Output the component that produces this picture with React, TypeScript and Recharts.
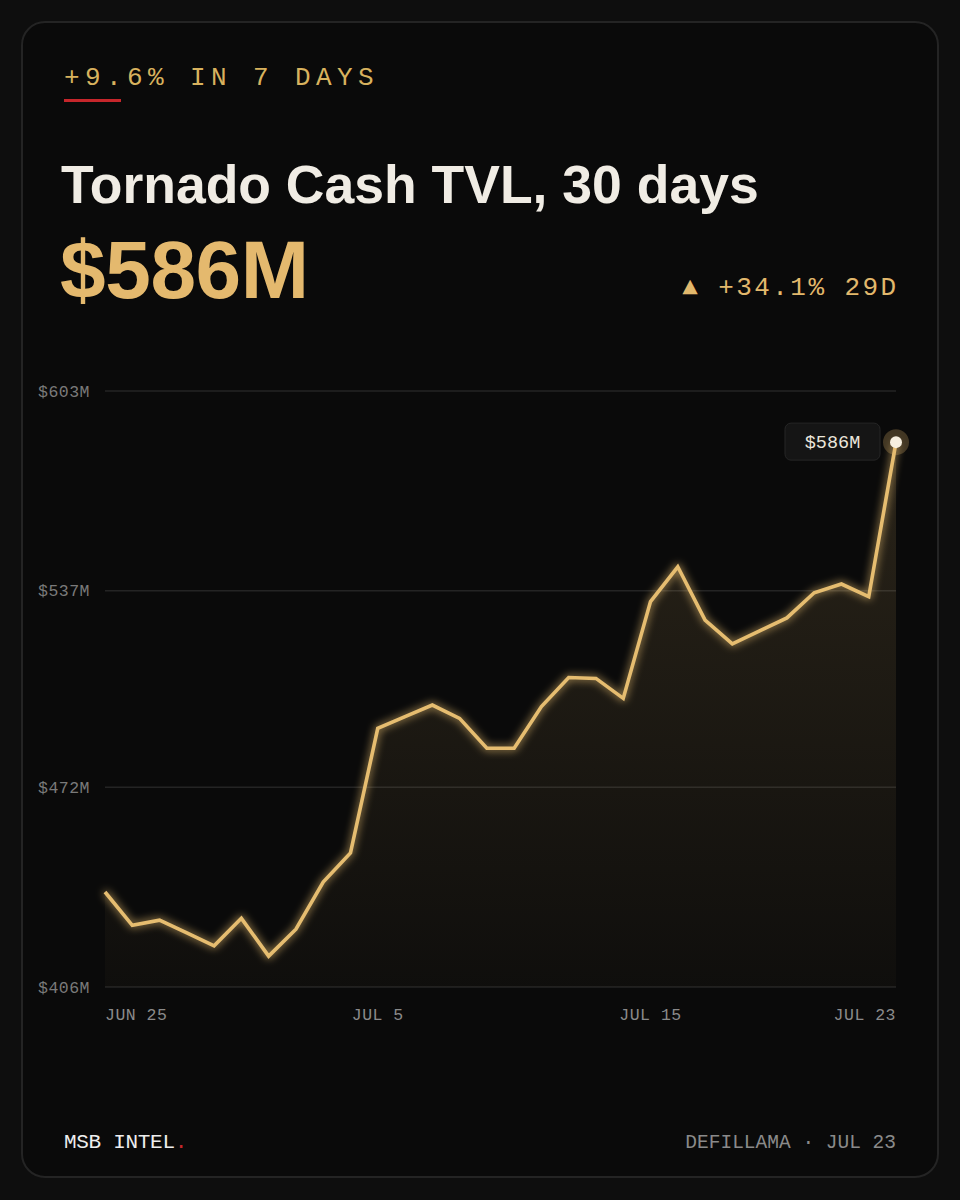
import React from "react";
import { ComposedChart, Line, Area, XAxis, YAxis, CartesianGrid } from "recharts";

const dates = [
  "JUN 25", "JUN 26", "JUN 27", "JUN 28", "JUN 29", "JUN 30",
  "JUL 1", "JUL 2", "JUL 3", "JUL 4", "JUL 5", "JUL 6", "JUL 7", "JUL 8",
  "JUL 9", "JUL 10", "JUL 11", "JUL 12", "JUL 13", "JUL 14", "JUL 15",
  "JUL 16", "JUL 17", "JUL 18", "JUL 19", "JUL 20", "JUL 21", "JUL 22",
  "JUL 23", "JUL 24",
];
const tvl = [
  437.4, 426.4, 428.1, 423.9, 419.6, 428.7, 416.2, 425.1, 440.7, 450.3,
  491.5, 495.4, 499.2, 494.8, 484.9, 484.9, 498.7, 508.3, 508.0, 501.4,
  533.4, 544.9, 527.3, 519.4, 523.7, 528.0, 536.3, 539.2, 535.0, 586.1,
];
const yTicks = [406, 472, 537, 603];
const xTickIndex = [0, 10, 20, 29];
const xTickLabels = ["JUN 25", "JUL 5", "JUL 15", "JUL 23"];

const data = dates.map((d, i) => ({ date: d, tvl: tvl[i] }));

const GOLD = "#e6bd70";
const MONO = "'Liberation Mono', 'DejaVu Sans Mono', monospace";
const SANS = "'Liberation Sans', Arial, sans-serif";

const XTick = (props: any) => {
  const { x, y, payload } = props;
  const idx = dates.indexOf(payload.value);
  const k = xTickIndex.indexOf(idx);
  const anchor = idx === 0 ? "start" : idx === dates.length - 1 ? "end" : "middle";
  return (
    <text x={x} y={y} dy={-1} textAnchor={anchor} fill="#8a8a8a" fontSize={16.5} fontFamily={MONO} letterSpacing={0.5}>
      {k >= 0 ? xTickLabels[k] : payload.value}
    </text>
  );
};

const YTick = (props: any) => {
  const { x, y, payload } = props;
  return (
    <text x={x} y={y} dy={5.5} textAnchor="end" fill="#7a7a7a" fontSize={16.5} fontFamily={MONO} letterSpacing={0.5}>
      {`$${payload.value}M`}
    </text>
  );
};

const LastDot = (props: any) => {
  const { cx, cy, index } = props;
  if (index !== tvl.length - 1 || cx == null) return <g key={`d${index}`} />;
  return (
    <g key={`d${index}`}>
      <rect x={cx - 111} y={cy - 19} width={95} height={37} rx={6} fill="#151515" stroke="#262626" strokeWidth={1} />
      <text x={cx - 63.5} y={cy + 6} textAnchor="middle" fill="#ebe6dc" fontSize={18.5} fontFamily={MONO}>
        {`$${Math.round(tvl[index])}M`}
      </text>
      <circle cx={cx} cy={cy} r={13} fill={GOLD} fillOpacity={0.25} />
      <circle cx={cx} cy={cy} r={6} fill="#f6efe0" />
    </g>
  );
};

export default function App() {
  return (
    <div style={{ position: "absolute", left: 0, top: 0, width: 960, height: 1200, background: "#0e0e0e", overflow: "hidden" }}>
      <div style={{ position: "absolute", left: 21, top: 21, width: 914, height: 1153, border: "2px solid #242424", borderRadius: 24, background: "#0a0a0a" }} />
      <div style={{ position: "absolute", left: 0, top: 350 }}>
        <ComposedChart width={960} height={710} data={data} margin={{ top: 41, right: 64, bottom: 33, left: 0 }}>
          <defs>
            <linearGradient id="areaFill" x1="0" y1="0" x2="0" y2="1">
              <stop offset="0%" stopColor={GOLD} stopOpacity={0.24} />
              <stop offset="100%" stopColor={GOLD} stopOpacity={0.04} />
            </linearGradient>
            <filter id="glow" x="-5%" y="-10%" width="110%" height="120%">
              <feGaussianBlur stdDeviation="4" result="b" />
              <feMerge>
                <feMergeNode in="b" />
                <feMergeNode in="SourceGraphic" />
              </feMerge>
            </filter>
          </defs>
          <CartesianGrid vertical={false} stroke="#242424" strokeWidth={1.5} />
          <XAxis
            dataKey="date"
            ticks={xTickIndex.map((i) => dates[i])}
            interval={0}
            axisLine={false}
            tickLine={false}
            tickSize={0}
            tickMargin={34}
            height={40}
            tick={<XTick />}
          />
          <YAxis
            domain={[406, 603]}
            ticks={yTicks}
            axisLine={false}
            tickLine={false}
            tickSize={0}
            tickMargin={15}
            width={105}
            tick={<YTick />}
          />
          <Area type="linear" dataKey="tvl" stroke="none" fill="url(#areaFill)" isAnimationActive={false} />
          <Line
            type="linear"
            dataKey="tvl"
            stroke={GOLD}
            strokeWidth={3.6}
            filter="url(#glow)"
            dot={(p: any) => <LastDot {...p} />}
            activeDot={false}
            isAnimationActive={false}
          />
        </ComposedChart>
      </div>
      <div style={{ position: "absolute", left: 64, top: 65, fontFamily: MONO, fontSize: 26, lineHeight: "26px", letterSpacing: 5.4, color: "#d8b25e", whiteSpace: "nowrap" }}>
        +9.6% IN 7 DAYS
      </div>
      <div style={{ position: "absolute", left: 64, top: 99, width: 57, height: 3, background: "#c6262b" }} />
      <div style={{ position: "absolute", left: 61, top: 158, fontFamily: SANS, fontWeight: 700, fontSize: 53.5, lineHeight: "53.5px", color: "#f0ece4", whiteSpace: "nowrap" }}>
        Tornado Cash TVL, 30 days
      </div>
      <div style={{ position: "absolute", left: 60, top: 229, fontFamily: SANS, fontWeight: 700, fontSize: 82, lineHeight: "82px", letterSpacing: -0.4, color: "#e4b96e", whiteSpace: "nowrap" }}>
        $586M
      </div>
      <div style={{ position: "absolute", right: 64, top: 275, fontFamily: MONO, fontSize: 26, lineHeight: "26px", letterSpacing: 2.4, marginRight: -2.4, color: "#e2b86c", whiteSpace: "nowrap" }}>
        ▲ +34.1% 29D
      </div>
      <div style={{ position: "absolute", left: 64, top: 1132, fontFamily: MONO, fontSize: 21, lineHeight: "21px", letterSpacing: -0.3, color: "#eeeeee", whiteSpace: "nowrap" }}>
        MSB INTEL<span style={{ color: "#c6262b" }}>.</span>
      </div>
      <div style={{ position: "absolute", right: 64, top: 1133, fontFamily: MONO, fontSize: 19.5, lineHeight: "20px", color: "#8a8a8a", whiteSpace: "nowrap" }}>
        DEFILLAMA · JUL 23
      </div>
    </div>
  );
}
